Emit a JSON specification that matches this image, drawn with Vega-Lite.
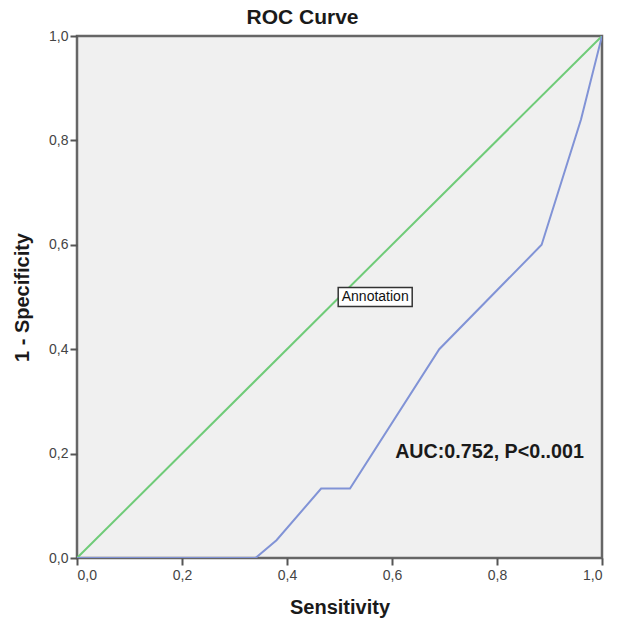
{
  "$schema": "https://vega.github.io/schema/vega-lite/v6.json",
  "width": 525,
  "height": 522,
  "autosize": {"type": "none"},
  "padding": {"left": 77, "top": 36, "right": 19, "bottom": 67},
  "background": "white",
  "title": {"text": "ROC Curve", "fontSize": 21, "font": "Liberation Sans", "fontWeight": "bold", "color": "#1a1a1a", "anchor": "middle", "frame": "group", "dx": -37, "offset": 1},
  "config": {
    "view": {"fill": "#f0f0f0", "stroke": "#666666", "strokeWidth": 2.5},
    "axis": {"grid": false, "domain": false, "tickColor": "#555", "tickSize": 7, "tickWidth": 2, "labelFont": "Liberation Sans", "labelFontSize": 14, "labelColor": "#444", "titleFont": "Liberation Sans", "titleFontSize": 20, "titleFontWeight": "bold", "titleColor": "#1a1a1a"}
  },
  "datasets": {
    "roc": [
      {"x": 0, "y": 0},
      {"x": 0.34, "y": 0},
      {"x": 0.38, "y": 0.034},
      {"x": 0.465, "y": 0.133},
      {"x": 0.52, "y": 0.133},
      {"x": 0.69, "y": 0.40},
      {"x": 0.885, "y": 0.60},
      {"x": 0.96, "y": 0.84},
      {"x": 1, "y": 1}
    ],
    "ref": [
      {"x": 0, "y": 0},
      {"x": 1, "y": 1}
    ],
    "notes": [
      {"x": 0.568, "y": 0.5, "label": "Annotation"}
    ],
    "auc": [
      {"x": 0.606, "y": 0.203, "label": "AUC:0.752, P<0..001"}
    ]
  },
  "layer": [
    {
      "data": {"name": "ref"},
      "mark": {"type": "line", "color": "#6fcb78", "strokeWidth": 2, "clip": true},
      "encoding": {
        "x": {"field": "x", "type": "quantitative", "scale": {"domain": [0, 1], "nice": false}, "title": "Sensitivity", "axis": {"values": [0, 0.2, 0.4, 0.6, 0.8, 1], "labelExpr": "replace(format(datum.value, '.1f'), '.', ',')", "titlePadding": 15, "labelPadding": 3}},
        "y": {"field": "y", "type": "quantitative", "scale": {"domain": [0, 1], "nice": false}, "title": "1 - Specificity", "axis": {"values": [0, 0.2, 0.4, 0.6, 0.8, 1], "labelExpr": "replace(format(datum.value, '.1f'), '.', ',')", "titlePadding": 16, "labelPadding": 2}}
      }
    },
    {
      "data": {"name": "roc"},
      "mark": {"type": "line", "color": "#8193d6", "strokeWidth": 2, "clip": true},
      "encoding": {
        "x": {"field": "x", "type": "quantitative"},
        "y": {"field": "y", "type": "quantitative"}
      }
    },
    {
      "data": {"name": "notes"},
      "mark": {"type": "point", "shape": "M-1,-0.257H1V0.257H-1Z", "size": 5476, "filled": true, "fill": "white", "stroke": "#333", "strokeWidth": 1.5, "opacity": 1},
      "encoding": {
        "x": {"field": "x", "type": "quantitative"},
        "y": {"field": "y", "type": "quantitative"}
      }
    },
    {
      "data": {"name": "notes"},
      "mark": {"type": "text", "font": "Liberation Sans", "fontSize": 14, "color": "#111", "align": "center", "baseline": "middle"},
      "encoding": {
        "x": {"field": "x", "type": "quantitative"},
        "y": {"field": "y", "type": "quantitative"},
        "text": {"field": "label"}
      }
    },
    {
      "data": {"name": "auc"},
      "mark": {"type": "text", "font": "Liberation Sans", "fontSize": 19.7, "fontWeight": "bold", "color": "#1a1a1a", "align": "left", "baseline": "middle"},
      "encoding": {
        "x": {"field": "x", "type": "quantitative"},
        "y": {"field": "y", "type": "quantitative"},
        "text": {"field": "label"}
      }
    }
  ]
}
